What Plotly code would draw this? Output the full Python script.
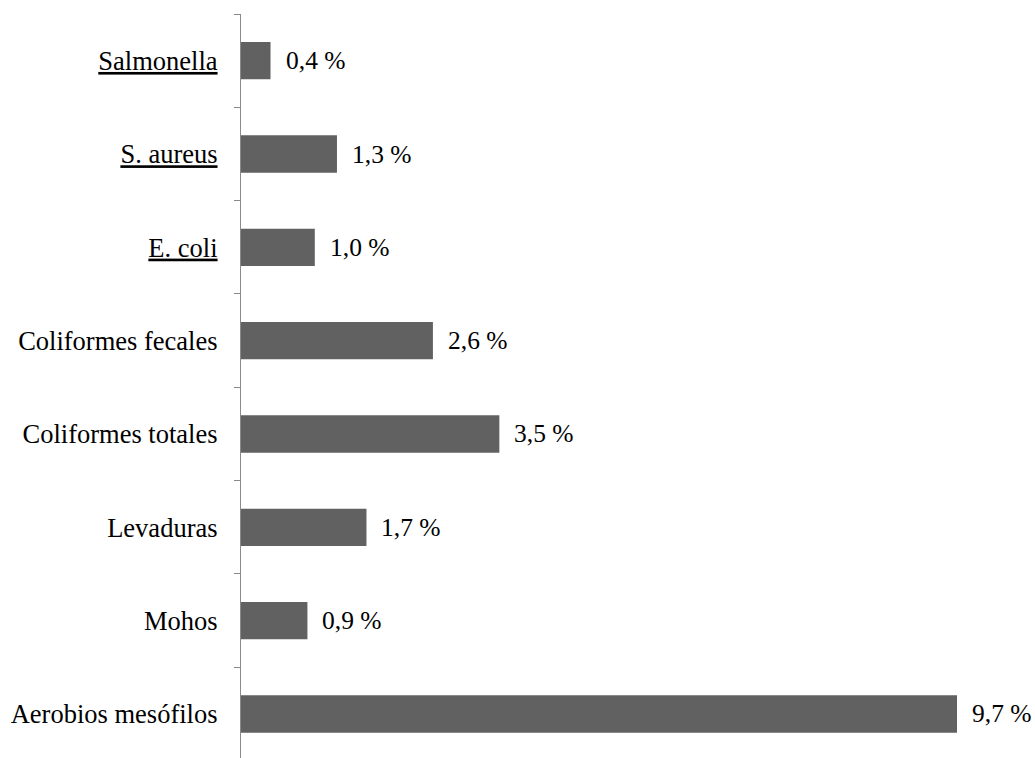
import plotly.graph_objects as go

# Data (bottom to top)
categories = ["Aerobios mesófilos", "Mohos", "Levaduras", "Coliformes totales",
              "Coliformes fecales", "E. coli", "S. aureus", "Salmonella"]
underlined = [False, False, False, False, False, True, True, True]
values = [9.7, 0.9, 1.7, 3.5, 2.6, 1.0, 1.3, 0.4]

labels = [f"<u>{c}</u>" if u else c for c, u in zip(categories, underlined)]
value_text = [f"{v:.1f} %".replace(".", ",") for v in values]

W, H = 1035, 758
left, top = 241, 14
right_edge = 1015
px_per_unit = (957 - 241) / 9.7
xmax = (right_edge - left) / px_per_unit
cat_px = 93.33
ybottom = 7.5 - (H - top) / cat_px

font = "Liberation Serif"

fig = go.Figure()
fig.add_trace(go.Bar(
    x=values, y=labels, orientation="h",
    marker=dict(color="#616161", line=dict(width=0)),
    width=0.4,
    hoverinfo="skip",
))

for lab, v, t in zip(labels, values, value_text):
    fig.add_annotation(x=v, y=lab, text=t, showarrow=False, xanchor="left",
                       xshift=13, font=dict(family=font, size=25.5, color="black"))

fig.update_layout(
    width=W, height=H,
    margin=dict(l=left, r=W - right_edge, t=top, b=0, autoexpand=False),
    paper_bgcolor="white", plot_bgcolor="white",
    showlegend=False,
    font=dict(family=font, size=26.5, color="black"),
    xaxis=dict(range=[0, xmax], visible=False, fixedrange=True),
    yaxis=dict(
        type="category", categoryorder="array", categoryarray=labels,
        range=[ybottom, 7.5],
        showline=True, linecolor="#8a8a8a", linewidth=1.3,
        ticks="outside", tickson="boundaries", ticklen=6, tickcolor="#8a8a8a",
        tickwidth=1.3, showgrid=False, zeroline=False,
        tickfont=dict(family=font, size=26.5, color="black"),
        ticklabelstandoff=17,
    ),
)

fig.write_html("out.html")
